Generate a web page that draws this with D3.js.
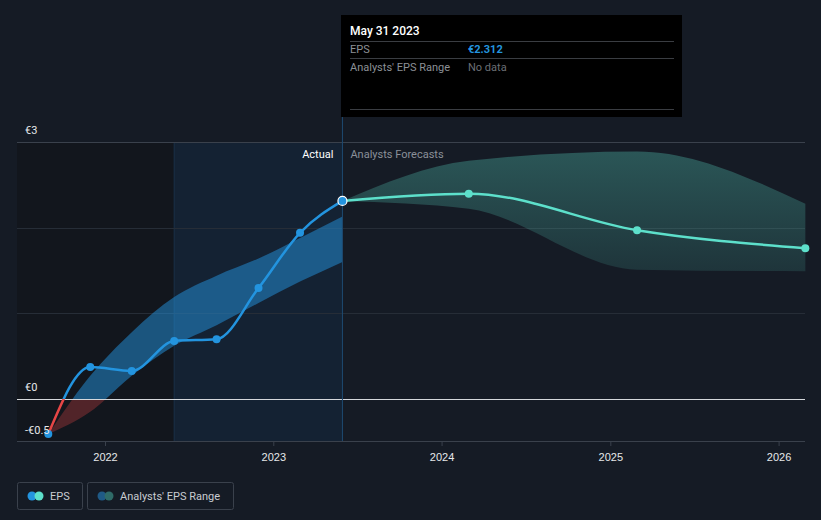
<!DOCTYPE html>
<html>
<head>
<meta charset="utf-8">
<script src="https://cdn.jsdelivr.net/npm/d3@7"></script>
<style>
  html, body { margin: 0; padding: 0; background: #151b25; }
  svg { display: block; font-family: Roboto, "Open Sans", sans-serif; }
</style>
</head>
<body>
<svg id="chart" width="821" height="520"></svg>
<script>
// ---- Data ----
const epsDates = ["2021-08-31","2021-11-30","2022-02-28","2022-05-31","2022-08-31","2022-11-30","2023-02-28","2023-05-31"];
const epsValues = [-0.41, 0.373, 0.327, 0.677, 0.697, 1.296, 1.94, 2.312];

const pastRangeDates = ["2021-08-31","2021-11-30","2022-02-28","2022-05-31","2022-08-31","2022-11-30","2023-02-28","2023-05-31"];
const pastRangeLow  = [-0.41, -0.15, 0.27, 0.62, 0.86, 1.12, 1.37, 1.60];
const pastRangeHigh = [-0.41, 0.27, 0.78, 1.19, 1.44, 1.64, 1.88, 2.13];

const fcDates = ["2023-05-31","2024-02-29","2025-02-28","2026-02-28"];
const fcValues = [2.312, 2.397, 1.97, 1.76];
const fcLow  = [2.312, 2.22, 1.51, 1.49];
const fcHigh = [2.312, 2.78, 2.89, 2.28];

const yTickValues = [3, 0, -0.5];
const yTickLabels = ["€3", "€0", "-€0.5"];
const yGridValues = [3, 2, 1];

const tooltipTitle = "May 31 2023";
const tooltipRows = [["EPS", "€2.312"], ["Analysts' EPS Range", "No data"]];
const legendItems = ["EPS", "Analysts' EPS Range"];

(function () {
// ---- Setup ----
const parse = d3.timeParse("%Y-%m-%d");
const svg = d3.select("#chart");
const W = 821, H = 520;
const pL = 17, pR = 805, pT = 142, pB = 441;

const x = d3.scaleTime()
  .domain([parse("2022-01-01"), parse("2026-01-01")])
  .range([105, 778.6]);
const y = d3.scaleLinear().domain([-0.5, 3]).range([pB + 0.8, pT]);

const eps = epsDates.map((d, i) => ({ date: parse(d), v: epsValues[i] }));
const past = pastRangeDates.map((d, i) => ({ date: parse(d), lo: pastRangeLow[i], hi: pastRangeHigh[i] }));
const fc = fcDates.map((d, i) => ({ date: parse(d), v: fcValues[i], lo: fcLow[i], hi: fcHigh[i] }));

const lastDate = eps[eps.length - 1].date;
const yearBefore = d3.timeYear.offset(lastDate, -1);

svg.append("rect").attr("width", W).attr("height", H).attr("fill", "#151b25");

// defs
const defs = svg.append("defs");
defs.append("clipPath").attr("id", "above").append("rect")
  .attr("x", 0).attr("y", 0).attr("width", W).attr("height", y(0));
defs.append("clipPath").attr("id", "below").append("rect")
  .attr("x", 0).attr("y", y(0)).attr("width", W).attr("height", H - y(0));
const grad = defs.append("linearGradient").attr("id", "fcgrad")
  .attr("x1", 0).attr("y1", 0).attr("x2", 0).attr("y2", 1);
grad.append("stop").attr("offset", "0%").attr("stop-color", "#5de0cb").attr("stop-opacity", 0.3);
grad.append("stop").attr("offset", "100%").attr("stop-color", "#5de0cb").attr("stop-opacity", 0.13);

// background regions
svg.append("rect").attr("x", pL).attr("y", pT)
  .attr("width", x(yearBefore) - pL).attr("height", pB - pT)
  .attr("fill", "#12161d");
svg.append("rect").attr("x", x(yearBefore)).attr("y", pT)
  .attr("width", x(lastDate) - x(yearBefore)).attr("height", pB - pT)
  .attr("fill", "#142233");
svg.append("line").attr("x1", x(yearBefore)).attr("x2", x(yearBefore))
  .attr("y1", pT).attr("y2", pB).attr("stroke", "#1a3148").attr("stroke-width", 1);

// grid
svg.append("g").selectAll("line").data(yGridValues).join("line")
  .attr("x1", pL).attr("x2", pR)
  .attr("y1", d => Math.round(y(d)) + 0.5).attr("y2", d => Math.round(y(d)) + 0.5)
  .attr("stroke", d => d === 3 ? "#3a414c" : "#262d37").attr("stroke-width", 1);

// forecast band
const fcArea = d3.area().x(d => x(d.date)).y0(d => y(d.lo)).y1(d => y(d.hi)).curve(d3.curveMonotoneX);
svg.append("path").datum(fc).attr("d", fcArea).attr("fill", "url(#fcgrad)");

// past band
const pastArea = d3.area().x(d => x(d.date)).y0(d => y(d.lo)).y1(d => y(d.hi)).curve(d3.curveMonotoneX);
svg.append("path").datum(past).attr("d", pastArea).attr("fill", "#2394df").attr("fill-opacity", 0.5)
  .attr("clip-path", "url(#above)");
svg.append("path").datum(past).attr("d", pastArea).attr("fill", "#e64646").attr("fill-opacity", 0.3)
  .attr("clip-path", "url(#below)");

// zero line
svg.append("line").attr("x1", pL).attr("x2", pR)
  .attr("y1", Math.round(y(0)) + 0.5).attr("y2", Math.round(y(0)) + 0.5)
  .attr("stroke", "#d5d8dc").attr("stroke-width", 1);

// vertical marker line at last actual
svg.append("line").attr("x1", x(lastDate)).attr("x2", x(lastDate))
  .attr("y1", 117).attr("y2", pB).attr("stroke", "#1d4a70").attr("stroke-width", 1);

// x axis
const xAxis = d3.axisBottom(x).ticks(d3.timeYear.every(1)).tickFormat(d3.timeFormat("%Y")).tickSize(5).tickSizeOuter(0);
const gx = svg.append("g").attr("transform", `translate(0,${pB})`).call(xAxis);
gx.select(".domain").remove();
gx.selectAll(".tick line").attr("stroke", "#3a414c");
gx.selectAll(".tick text").attr("fill", "#e6e8ea").attr("font-size", 11).attr("dy", "1.05em");
svg.append("line").attr("x1", pL).attr("x2", pR)
  .attr("y1", pB + 0.5).attr("y2", pB + 0.5).attr("stroke", "#3a414c");

// forecast line
const line = d3.line().x(d => x(d.date)).y(d => y(d.v)).curve(d3.curveMonotoneX);
svg.append("path").datum(fc).attr("d", line).attr("fill", "none")
  .attr("stroke", "#5de0cb").attr("stroke-width", 2.5);

// eps line
svg.append("path").datum(eps).attr("d", line).attr("fill", "none")
  .attr("stroke", "#2394df").attr("stroke-width", 2.5).attr("clip-path", "url(#above)");
svg.append("path").datum(eps).attr("d", line).attr("fill", "none")
  .attr("stroke", "#e64646").attr("stroke-width", 2.5).attr("clip-path", "url(#below)");

// forecast points
svg.append("g").selectAll("circle").data(fc.slice(1)).join("circle")
  .attr("cx", d => x(d.date)).attr("cy", d => y(d.v)).attr("r", 4).attr("fill", "#5de0cb");

// eps points
svg.append("g").selectAll("circle").data(eps).join("circle")
  .attr("cx", d => x(d.date)).attr("cy", d => y(d.v))
  .attr("r", (d, i) => i === eps.length - 1 ? 4.5 : 4)
  .attr("fill", "#2394df")
  .attr("stroke", (d, i) => i === eps.length - 1 ? "#ffffff" : "none")
  .attr("stroke-width", 1.2);

// y labels
svg.append("g").selectAll("text").data(yTickValues).join("text")
  .attr("x", 25).attr("y", d => y(d) - 8)
  .attr("fill", "#e6e8ea").attr("font-size", 11)
  .text((d, i) => yTickLabels[i]);

// Actual / Forecast labels
svg.append("text").attr("x", x(lastDate) - 9).attr("y", 158).attr("text-anchor", "end")
  .attr("fill", "#ffffff").attr("font-size", 11).text("Actual");
svg.append("text").attr("x", x(lastDate) + 8).attr("y", 158)
  .attr("fill", "#8a9099").attr("font-size", 11).text("Analysts Forecasts");

// tooltip
const tt = svg.append("g");
tt.append("rect").attr("x", 341).attr("y", 15).attr("width", 341).attr("height", 102).attr("fill", "#000000");
tt.append("text").attr("x", 350).attr("y", 35).attr("fill", "#ffffff").attr("font-size", 12)
  .attr("font-weight", 500).text(tooltipTitle);
[41, 58, 109].forEach(yy => {
  tt.append("line").attr("x1", 350).attr("x2", 674).attr("y1", yy + 0.5).attr("y2", yy + 0.5)
    .attr("stroke", "#3a3d42");
});
tooltipRows.forEach((r, i) => {
  tt.append("text").attr("x", 350).attr("y", 53 + i * 17.5).attr("fill", "#8c9096").attr("font-size", 11).text(r[0]);
  tt.append("text").attr("x", 468).attr("y", 53 + i * 17.5)
    .attr("fill", i === 0 ? "#2394df" : "#6b6f75")
    .attr("font-size", 11).attr("font-weight", i === 0 ? 700 : 400).text(r[1]);
});

// legend
const lg = svg.append("g");
const lgBoxes = [{ x: 17, w: 65, c1: "#2394df", c2: "#5de0cb" }, { x: 87, w: 146, c1: "#1f5a86", c2: "#2f6b68" }];
lgBoxes.forEach((b, i) => {
  lg.append("rect").attr("x", b.x + 0.5).attr("y", 482.5).attr("width", b.w).attr("height", 27)
    .attr("rx", 2).attr("fill", "none").attr("stroke", "#3a414c");
  lg.append("circle").attr("cx", b.x + 15).attr("cy", 496).attr("r", 4.5).attr("fill", b.c1);
  lg.append("circle").attr("cx", b.x + 22).attr("cy", 496).attr("r", 4.5).attr("fill", b.c2);
  lg.append("text").attr("x", b.x + 33).attr("y", 500).attr("fill", "#c8ccd1").attr("font-size", 11)
    .text(legendItems[i]);
});
})();
</script>
</body>
</html>
